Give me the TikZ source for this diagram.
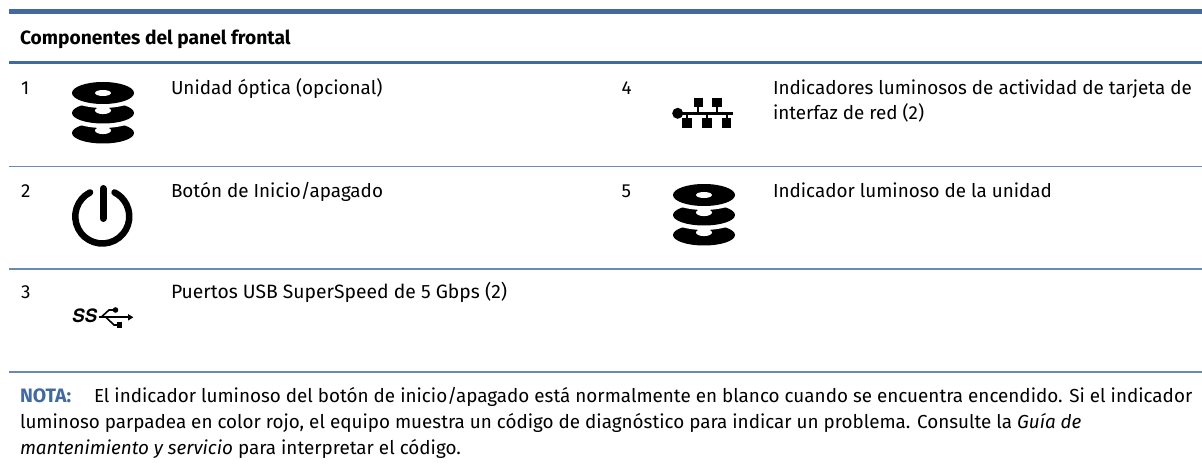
\documentclass[tikz,border=0pt]{standalone}
\usepackage{fontspec}
\setmainfont{Fira Sans}
\newfontfamily\ssfont{TeX Gyre Heros}
\definecolor{hpblue}{HTML}{426A9F}
\definecolor{hpthin}{HTML}{6A8AB5}
\newcommand{\discicon}[2]{%
  \begin{scope}[shift={(#1,#2)}]
    \fill[black] (0,40) ellipse [x radius=31,y radius=10.5];
    \fill[white] (0,37.5) ellipse [x radius=8,y radius=3.6];
    \fill[white] (0,20.5) ellipse [x radius=37,y radius=14.5];
    \fill[black] (0,20) ellipse [x radius=31,y radius=10.5];
    \fill[white] (0,17.5) ellipse [x radius=8,y radius=3.6];
    \fill[white] (0,0.5) ellipse [x radius=37,y radius=14.5];
    \fill[black] (0,0) ellipse [x radius=31,y radius=11];
    \fill[white] (0,0) ellipse [x radius=8,y radius=3];
  \end{scope}}
\tikzset{
  lbl/.style={anchor=base west,inner sep=0pt,outer sep=0pt,font=\fontsize{18.85}{18.85}\selectfont},
  rule/.style={draw=hpthin,line width=1.4pt},
}
\begin{document}
\begin{tikzpicture}[x=1pt,y=-1pt]
\useasboundingbox (0,0) rectangle (1202,470);
\fill[white] (0,0) rectangle (1202,470);
% rules
\fill[hpblue] (9,9) rectangle (1202,14.5);
\fill[hpblue] (9,61) rectangle (1202,64);
\draw[rule] (9,166.5) -- (1202,166.5);
\draw[rule] (9,269) -- (1202,269);
\draw[rule] (9,372) -- (1202,372);
% header
\node[lbl,font=\fontsize{19.2}{19.2}\selectfont\bfseries] (h) at (20,44.5) {Componentes del panel frontal};
% numbers
\node[lbl] (n1) at (21,95) {1};
\node[lbl] (n2) at (21,198) {2};
\node[lbl] (n3) at (21,299) {3};
\node[lbl] (n4) at (621.5,95) {4};
\node[lbl] (n5) at (621.5,198) {5};
% texts
\node[lbl] (t1) at (171,95) {Unidad óptica (opcional)};
\node[lbl] (t2) at (171,198) {Botón de Inicio/apagado};
\node[lbl,font=\fontsize{19.3}{19.3}\selectfont] (t3) at (171,299) {Puertos USB SuperSpeed de 5 Gbps (2)};
\node[lbl] (t4a) at (773,95) {Indicadores luminosos de actividad de tarjeta de};
\node[lbl] (t4b) at (773,120) {interfaz de red (2)};
\node[lbl] (t5) at (773,198) {Indicador luminoso de la unidad};
% note
\node[lbl,font=\fontsize{19.4}{19.4}\selectfont\bfseries,text=hpblue] (nt) at (20,402.5) {NOTA:};
\node[lbl] (l1) at (94,402.5) {El indicador luminoso del botón de inicio/apagado está normalmente en blanco cuando se encuentra encendido. Si el indicador};
\node[lbl] (l2) at (20,428) {luminoso parpadea en color rojo, el equipo muestra un código de diagnóstico para indicar un problema. Consulte la \textit{Guía de}};
\node[lbl] (l3) at (20,454) {\textit{mantenimiento y servicio} para interpretar el código.};
% disc icons
\discicon{103}{93}
\discicon{704}{195}
% power icon
\draw[black,line width=6.5pt,line cap=round] (102.3,216.5) ++(-117:27) arc [start angle=-117,delta angle=-306,radius=27];
\draw[black,line width=7pt,line cap=round] (103,188.5) -- (103,218.5);
% network icon
\fill[black] (677.7,113.3) circle [radius=5.5];
\draw[black,line width=3pt] (677.7,113.3) -- (733.3,113.3);
\foreach \px in {698.3,717}{
  \draw[black,line width=1.8pt] (\px,106) -- (\px,113);
  \fill[black] (\px-4.7,98.3) rectangle (\px+4.7,107.5);
}
\foreach \px in {687,707,726.7}{
  \draw[black,line width=1.8pt] (\px,113) -- (\px,119);
  \fill[black] (\px-4.7,118.3) rectangle (\px+4.7,128);
}
% USB SuperSpeed icon
\node[anchor=base west,inner sep=0pt,font=\ssfont\fontsize{18.5}{18.5}\selectfont\bfseries\itshape] (ss) at (72,323) {SS};
\draw[black,line width=1.6pt] (99,317.3) -- (129,317.3);
\fill[black] (133.3,317.3) -- (128,314) -- (128,320.6) -- cycle;
\draw[black,line width=1.6pt] (101,317.3) -- (109,310) -- (115,310);
\fill[black] (115.5,310) circle [radius=2.8];
\draw[black,line width=1.6pt] (106,317.3) -- (114,325) -- (118,325);
\fill[black] (117,322.2) rectangle (122.4,327.8);
\end{tikzpicture}
\end{document}
